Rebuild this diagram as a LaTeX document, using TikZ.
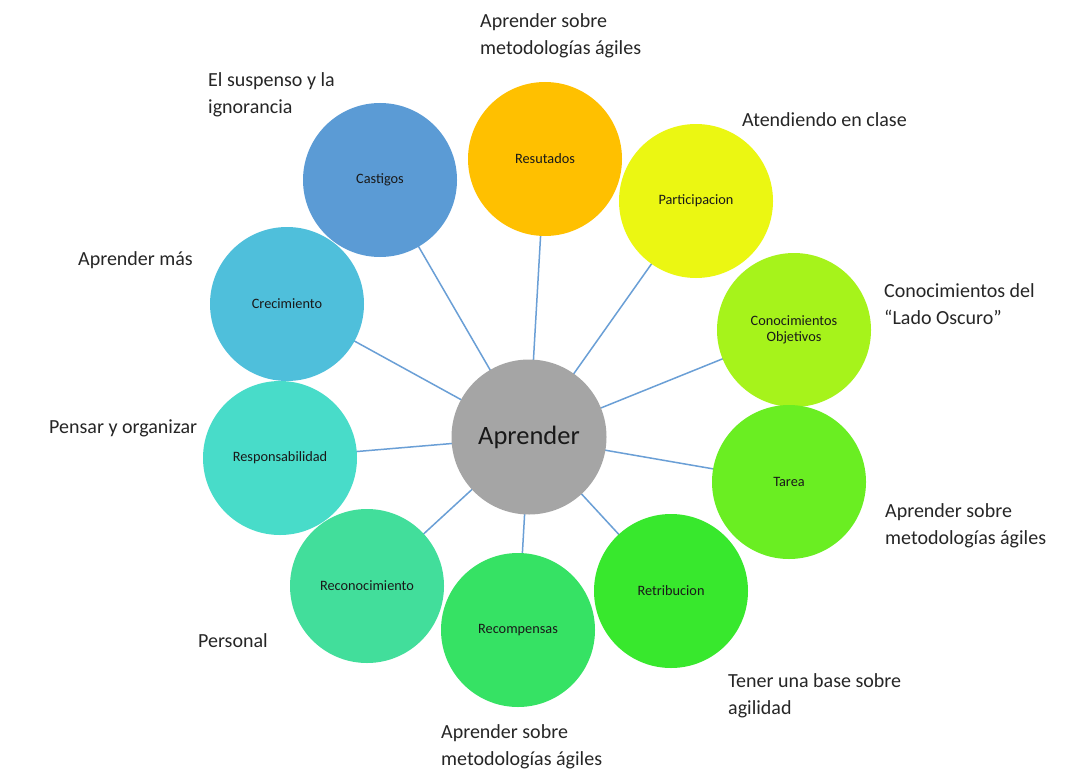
\documentclass[tikz,border=0pt]{standalone}
\usepackage{fontspec}
\setmainfont{Carlito}
\usetikzlibrary{backgrounds}
\definecolor{linkblue}{HTML}{6A9FD6}
\definecolor{hubgray}{HTML}{A5A5A5}
\definecolor{cCastigos}{HTML}{5B9BD5}
\definecolor{cResultados}{HTML}{FFC000}
\definecolor{cParticipacion}{HTML}{EBF712}
\definecolor{cConocimientos}{HTML}{A6F31B}
\definecolor{cTarea}{HTML}{6AEE22}
\definecolor{cRetribucion}{HTML}{38E82D}
\definecolor{cRecompensas}{HTML}{36E264}
\definecolor{cReconocimiento}{HTML}{42DE9B}
\definecolor{cResponsabilidad}{HTML}{48DCC9}
\definecolor{cCrecimiento}{HTML}{4FBFDB}
\definecolor{inktext}{HTML}{262626}
\begin{document}
\begin{tikzpicture}[x=1pt,y=-1pt,
  bubble/.style={circle,minimum size=154pt,inner sep=0pt,align=center,
    font=\fontsize{14.3}{16}\selectfont,text=black!90},
  hub/.style={circle,minimum size=155pt,inner sep=0pt,fill=hubgray,
    font=\fontsize{26.5}{30}\selectfont,text=black!90},
  note/.style={anchor=base west,inner sep=0pt,text=inktext,
    font=\fontsize{20}{27}\selectfont},
  link/.style={draw=linkblue,line width=1.5pt}]
\useasboundingbox (0,0) rectangle (1067,781);

% hub
\node[hub] (hub) at (529,437) {Aprender};

% bubbles
\node[bubble,fill=cCastigos] (castigos) at (380,180) {Castigos};
\node[bubble,fill=cResultados] (resultados) at (545,159) {Resutados};
\node[bubble,fill=cParticipacion] (participacion) at (696,201) {Participacion};
\node[bubble,fill=cConocimientos] (conocimientos) at (794,330) {Conocimientos\\Objetivos};
\node[bubble,fill=cTarea] (tarea) at (789,482) {Tarea};
\node[bubble,fill=cRetribucion] (retribucion) at (671,591) {Retribucion};
\node[bubble,fill=cRecompensas] (recompensas) at (518,630) {Recompensas};
\node[bubble,fill=cReconocimiento] (reconocimiento) at (367,586) {Reconocimiento};
\node[bubble,fill=cResponsabilidad] (responsabilidad) at (280,458) {Responsabilidad};
\node[bubble,fill=cCrecimiento] (crecimiento) at (287,304) {Crecimiento};

% connectors
\begin{scope}[on background layer]
\fill[white] (0,0) rectangle (1067,781);
\foreach \n in {castigos,resultados,participacion,conocimientos,tarea,
  retribucion,recompensas,reconocimiento,responsabilidad,crecimiento}
  \draw[link] (hub.center) -- (\n.center);
\end{scope}

% notes
\node[note] (nResultados) at (480,28)
  {\begin{tabular}[t]{@{}l@{}}Aprender sobre\\metodologías ágiles\end{tabular}};
\node[note] (nCastigos) at (208,87)
  {\begin{tabular}[t]{@{}l@{}}El suspenso y la\\ignorancia\end{tabular}};
\node[note] (nParticipacion) at (742,126) {Atendiendo en clase};
\node[note] (nConocimientos) at (884,297)
  {\begin{tabular}[t]{@{}l@{}}Conocimientos del\\“Lado Oscuro”\end{tabular}};
\node[note] (nTarea) at (885,517)
  {\begin{tabular}[t]{@{}l@{}}Aprender sobre\\metodologías ágiles\end{tabular}};
\node[note] (nRetribucion) at (728,687)
  {\begin{tabular}[t]{@{}l@{}}Tener una base sobre\\agilidad\end{tabular}};
\node[note] (nRecompensas) at (441,738)
  {\begin{tabular}[t]{@{}l@{}}Aprender sobre\\metodologías ágiles\end{tabular}};
\node[note] (nReconocimiento) at (198,647) {Personal};
\node[note] (nResponsabilidad) at (49,433) {Pensar y organizar};
\node[note] (nCrecimiento) at (78,265) {Aprender más};
\end{tikzpicture}
\end{document}
